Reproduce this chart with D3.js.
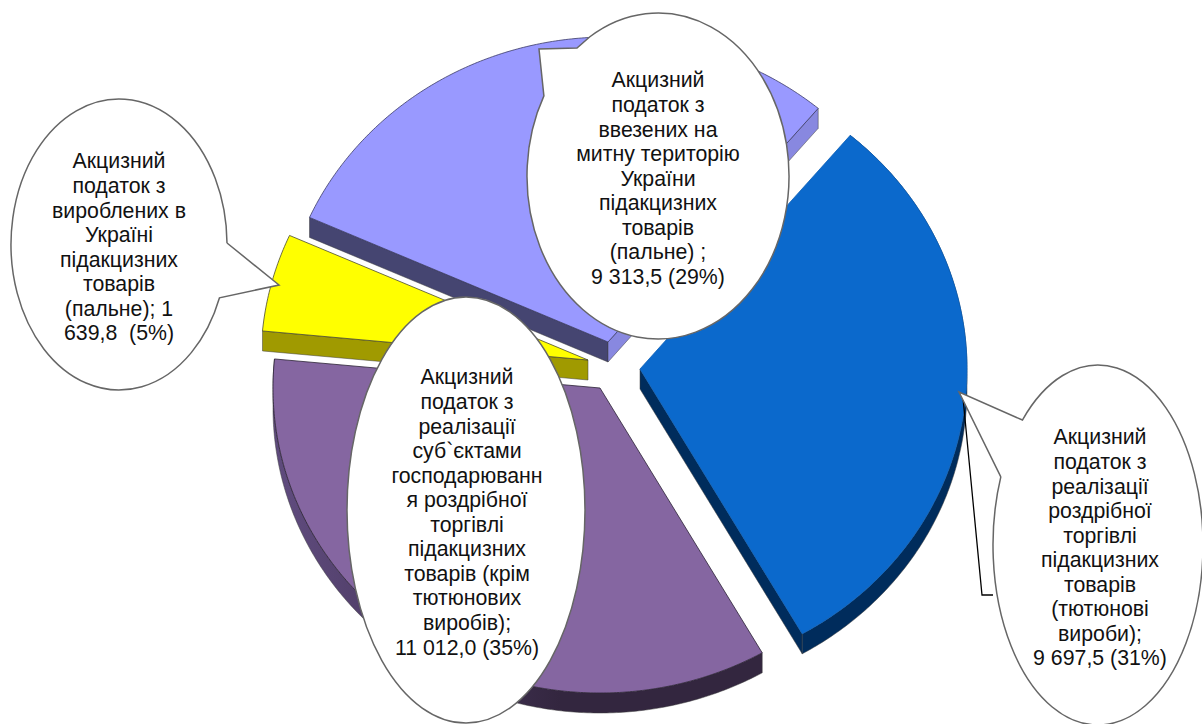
<!DOCTYPE html>
<html lang="uk">
<head>
<meta charset="utf-8">
<title>Акцизний податок</title>
<script src="https://cdnjs.cloudflare.com/ajax/libs/d3/7.9.0/d3.min.js"></script>
<style>
  html, body { margin: 0; padding: 0; background: #fff; overflow: hidden; }
  svg { display: block; }
  text { font-family: "Liberation Sans", Arial, sans-serif; font-size: 21.3px; fill: #111; text-anchor: middle; }
</style>
</head>
<body>
<svg id="chart" width="1202" height="724"></svg>
<script>
// Excise tax revenue by source, clockwise from the blue slice.
const categories = ["tobacco retail", "other retail", "domestic fuel", "imported fuel"];
const values = [9697.5, 11012.0, 1639.8, 9313.5];

const labelTobacco = ["Акцизний", "податок з", "реалізації", "роздрібної", "торгівлі", "підакцизних", "товарів", "(тютюнові", "вироби);", "9 697,5 (31%)"];
const labelRetail = ["Акцизний", "податок з", "реалізації", "суб`єктами", "господарюванн", "я роздрібної", "торгівлі", "підакцизних", "товарів (крім", "тютюнових", "виробів);", "11 012,0 (35%)"];
const labelDomestic = ["Акцизний", "податок з", "вироблених в", "Україні", "підакцизних", "товарів", "(пальне); 1", "639,8  (5%)"];
const labelImport = ["Акцизний", "податок з", "ввезених на", "митну територію", "України", "підакцизних", "товарів", "(пальне) ;", "9 313,5 (29%)"];

// Where each exploded slice has its apex.
const apexes = [[640, 369], [600, 388], [588, 360], [608, 342]];

const topColors = ["#0B69CC", "#8566A1", "#FFFF00", "#9999FF"];
const edgeColors = ["#0B5FB8", "#2b2235", "#4a4a30", "#3a3a66"];
// Wall colours for the cut at the slice's start, at its end, and the outer rim.
// A null wall faces away from the viewer and is skipped.
const wallColors = [
  [null, "#002C5C", "#002C5C"],
  [null, null, "url(#purpleRim)"],
  ["#A09A00", null, null],
  ["#454571", "#8888E0", null]
];

const depth = 20;
const radiusX = d3.scaleLinear().domain([0, 1]).range([0, 327]);
const radiusY = d3.scaleLinear().domain([0, 1]).range([0, 305]);

const svg = d3.select("#chart");

const defs = svg.append("defs");
const rimGrad = defs.append("linearGradient").attr("id", "purpleRim")
  .attr("gradientUnits", "userSpaceOnUse")
  .attr("x1", 290).attr("y1", 0).attr("x2", 560).attr("y2", 0);
rimGrad.append("stop").attr("offset", 0).attr("stop-color", "#5E4A7C");
rimGrad.append("stop").attr("offset", 1).attr("stop-color", "#33263F");

const pie = d3.pie().sort(null)
  .startAngle(40 * Math.PI / 180)
  .endAngle(400 * Math.PI / 180);
const arcs = pie(values);

const line = d3.line();

function project(apex, angle, drop) {
  return [
    apex[0] + radiusX(Math.sin(angle)),
    apex[1] - radiusY(Math.cos(angle)) + drop
  ];
}

function rimPoints(apex, a0, a1, drop) {
  const n = Math.max(2, Math.ceil((a1 - a0) / 0.01));
  return d3.range(n + 1).map(i => project(apex, a0 + (a1 - a0) * i / n, drop));
}

const slices = svg.append("g").selectAll("g")
  .data(arcs)
  .join("g")
  .attr("data-name", (d, i) => categories[i]);

slices.each(function (d, i) {
  const g = d3.select(this);
  const apex = apexes[i];
  const low = [apex[0], apex[1] + depth];
  const walls = wallColors[i];

  const startCut = [apex, project(apex, d.startAngle, 0), project(apex, d.startAngle, depth), low];
  const endCut = [apex, project(apex, d.endAngle, 0), project(apex, d.endAngle, depth), low];
  const rim = rimPoints(apex, d.startAngle, d.endAngle, 0)
    .concat(rimPoints(apex, d.startAngle, d.endAngle, depth).reverse());

  [[startCut, walls[0]], [endCut, walls[1]], [rim, walls[2]]].forEach(([pts, fill]) => {
    if (!fill) return;
    g.append("path")
      .attr("d", line(pts) + "Z")
      .attr("fill", fill)
      .attr("stroke", "#3d3d3d")
      .attr("stroke-width", 0.5);
  });

  const face = [apex].concat(rimPoints(apex, d.startAngle, d.endAngle, 0));
  g.append("path")
    .attr("d", line(face) + "Z")
    .attr("fill", topColors[i])
    .attr("stroke", edgeColors[i])
    .attr("stroke-width", 0.8)
    .attr("stroke-linejoin", "round");
});

// Black leader line from the tobacco slice to its bubble.
svg.append("path")
  .attr("d", line([[963, 398], [982, 595], [993, 595]]))
  .attr("fill", "none")
  .attr("stroke", "#000")
  .attr("stroke-width", 1.3);

const bubbles = [
  { cx: 466, cy: 510, rx: 119, ry: 213, tail: null, textX: 467, textY: 377, lines: labelRetail },
  { cx: 119, cy: 244.5, rx: 108, ry: 145.5, textX: 119, textY: 161, lines: labelDomestic,
    tail: [[226, 243], [279, 285], [218, 297]] },
  { cx: 658, cy: 176, rx: 131, ry: 163, textX: 658, textY: 80, lines: labelImport,
    tail: [[544, 96], [539, 49], [577, 48], [590, 37]] },
  { cx: 1098, cy: 545, rx: 105, ry: 180, textX: 1100, textY: 437, lines: labelTobacco,
    tail: [[1001, 477], [959, 392], [1023, 421]] }
];

const lineStep = 24.55;

// A tail's two ends are pulled onto the ellipse so the outline closes cleanly.
function snap(b, p) {
  const t = Math.atan2((p[1] - b.cy) / b.ry, (p[0] - b.cx) / b.rx);
  return [b.cx + b.rx * Math.cos(t), b.cy + b.ry * Math.sin(t)];
}

function bubblePath(b) {
  if (!b.tail) {
    return `M${b.cx - b.rx},${b.cy}A${b.rx},${b.ry} 0 1 1 ${b.cx + b.rx},${b.cy}A${b.rx},${b.ry} 0 1 1 ${b.cx - b.rx},${b.cy}Z`;
  }
  const pts = b.tail.slice();
  pts[0] = snap(b, pts[0]);
  pts[pts.length - 1] = snap(b, pts[pts.length - 1]);
  return line(pts) + `A${b.rx},${b.ry} 0 1 1 ${pts[0][0]},${pts[0][1]}Z`;
}

const bubble = svg.append("g").selectAll("g")
  .data(bubbles)
  .join("g");

bubble.append("path")
  .attr("d", bubblePath)
  .attr("fill", "#fff")
  .attr("stroke", "#666")
  .attr("stroke-width", 1.5)
  .attr("stroke-linejoin", "miter");

bubble.each(function (b) {
  d3.select(this).selectAll("text")
    .data(b.lines)
    .join("text")
    .attr("x", b.textX)
    .attr("y", (d, i) => b.textY + i * lineStep)
    .attr("dy", "0.35em")
    .attr("xml:space", "preserve")
    .text(d => d);
});
</script>
</body>
</html>
